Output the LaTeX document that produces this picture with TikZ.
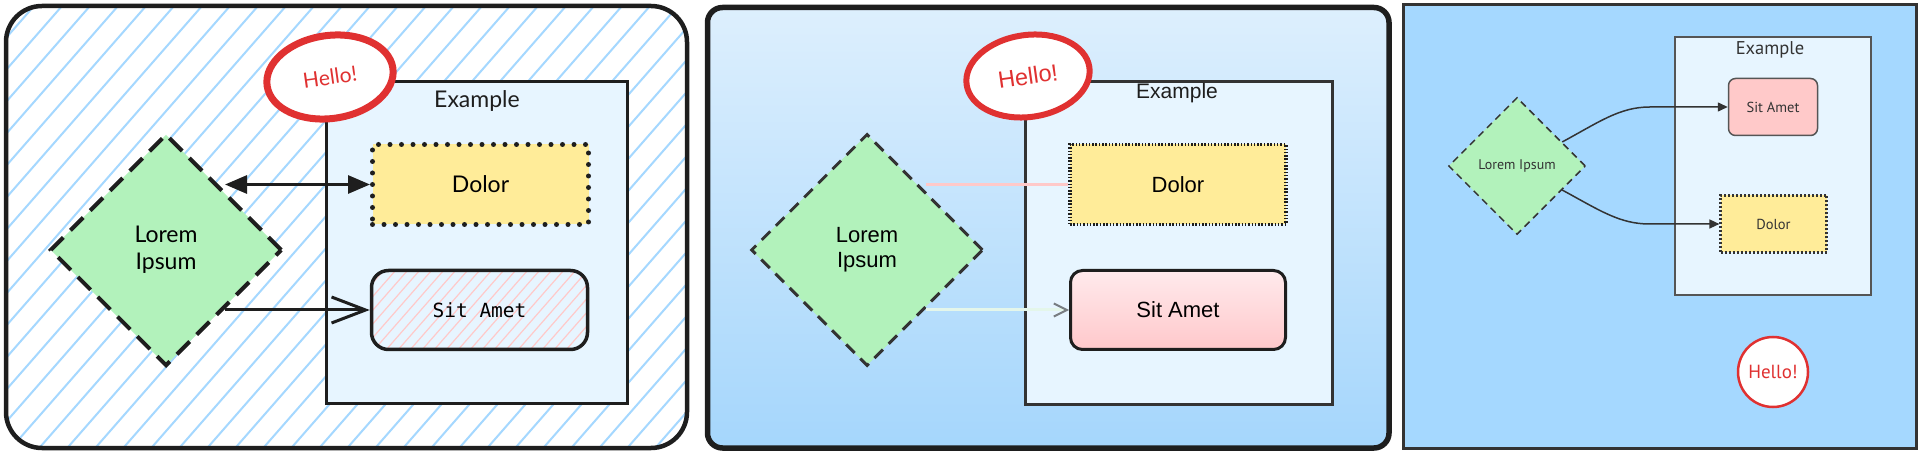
\documentclass[tikz,border=0pt]{standalone}
\usepackage{fontspec}
\usepackage{xcolor}
\usepackage{tikz}
\usetikzlibrary{positioning, arrows.meta, shapes.geometric}
\newfontfamily\sketchfont{Lato}
\newfontfamily\codefont{DejaVu Sans Mono}
\newfontfamily\arialfont{Liberation Sans}
\newfontfamily\trebfont{PT Sans}
\definecolor{inkblack}{RGB}{30,30,30}
\definecolor{hatchblue}{RGB}{165,216,255}
\definecolor{paleblue}{RGB}{231,245,255}
\definecolor{mintgreen}{RGB}{178,242,187}
\definecolor{butter}{RGB}{255,236,153}
\definecolor{rosepink}{RGB}{255,201,201}
\definecolor{hellored}{RGB}{224,49,49}
\definecolor{skytop}{RGB}{221,239,253}
\definecolor{skybottom}{RGB}{165,214,252}
\definecolor{rosetop}{RGB}{255,234,236}
\definecolor{rosebottom}{RGB}{255,200,203}
\definecolor{darkgray}{RGB}{51,51,51}
\definecolor{midgray}{RGB}{85,85,85}
\definecolor{palemint}{RGB}{228,246,234}
\definecolor{tipgray}{RGB}{120,125,130}

\begin{document}
\begin{tikzpicture}[
  x=1pt, y=-1pt,
  % sketch style
  frameone/.style={draw=inkblack, line width=4.5pt, rounded corners=36pt, fill=white,
                   path picture={\foreach \k in {0,...,40}
                     \draw[hatchblue, line width=2pt] ([xshift=\k*28pt]path picture bounding box.north west) -- ++(-420,480);}},
  boxone/.style={rectangle, draw=inkblack, line width=3pt, fill=paleblue,
                 minimum width=301pt, minimum height=322pt, inner sep=0pt},
  lblone/.style={font=\sketchfont\fontsize{23pt}{27pt}\selectfont, text=inkblack, align=center},
  dotone/.style={rectangle, draw=inkblack, line width=5pt, dash pattern=on 0pt off 11.5pt,
                 line cap=round, fill=butter, minimum width=216pt, minimum height=80pt,
                 font=\sketchfont\fontsize{23pt}{27pt}\selectfont},
  decone/.style={diamond, draw=inkblack, line width=4pt, dash pattern=on 18pt off 10pt,
                 fill=mintgreen, minimum width=232pt, minimum height=232pt, inner sep=0pt,
                 align=center, font=\sketchfont\fontsize{23pt}{27pt}\selectfont},
  hatchone/.style={rectangle, rounded corners=17pt, draw=inkblack, line width=3.5pt, fill=paleblue,
                   minimum width=216pt, minimum height=79pt,
                   font=\codefont\fontsize{19.5pt}{24pt}\selectfont,
                   path picture={\foreach \k in {0,...,26}
                     \draw[rosepink, line width=1.2pt] ([xshift=\k*12pt]path picture bounding box.north west) -- ++(-84,96);}},
  helloone/.style={ellipse, draw=hellored, line width=7pt, fill=white,
                   minimum width=127pt, minimum height=83pt, inner sep=0pt, rotate=8,
                   text=hellored, font=\sketchfont\fontsize{21pt}{24pt}\selectfont},
  dblarr/.style={{Triangle[length=22pt,width=18pt]}-{Triangle[length=22pt,width=18pt]},
                 line width=3pt, draw=inkblack},
  openarr/.style={-{Straight Barb[length=34pt,width=26pt]}, line width=3pt, draw=inkblack},
  % glossy style
  frametwo/.style={draw=inkblack, line width=5.5pt, rounded corners=15pt,
                   top color=skytop, bottom color=skybottom},
  boxtwo/.style={rectangle, draw=darkgray, line width=3pt, fill=paleblue,
                 minimum width=307pt, minimum height=323pt, inner sep=0pt},
  lbltwo/.style={font=\arialfont\fontsize{21pt}{25pt}\selectfont, text=inkblack, align=center},
  dottwo/.style={rectangle, draw=inkblack, line width=3.5pt, dash pattern=on 1.5pt off 1.8pt,
                 fill=butter, minimum width=216pt, minimum height=80pt,
                 font=\arialfont\fontsize{22pt}{25pt}\selectfont},
  dectwo/.style={diamond, draw=darkgray, line width=3pt, dash pattern=on 12pt off 8pt,
                 fill=mintgreen, minimum width=232pt, minimum height=232pt, inner sep=0pt,
                 align=center, font=\arialfont\fontsize{22pt}{25pt}\selectfont},
  shadetwo/.style={rectangle, rounded corners=12pt, draw=inkblack, line width=3pt,
                   top color=rosetop, bottom color=rosebottom,
                   minimum width=215pt, minimum height=79pt,
                   font=\arialfont\fontsize{22pt}{25pt}\selectfont},
  hellotwo/.style={ellipse, draw=hellored, line width=6pt, fill=white,
                   minimum width=124pt, minimum height=82pt, inner sep=0pt, rotate=8,
                   text=hellored, font=\arialfont\fontsize{23.5pt}{26pt}\selectfont},
  pinkline/.style={draw=rosepink, line width=3pt},
  mintarr/.style={draw=palemint, line width=3pt,
                  -{Straight Barb[length=13pt,width=13pt,color=tipgray,line width=2pt]}},
  % flowchart style
  framethree/.style={draw=darkgray, line width=3pt, fill=hatchblue},
  boxthree/.style={rectangle, draw=midgray, line width=2pt, fill=paleblue,
                   minimum width=196pt, minimum height=258pt, inner sep=0pt},
  lblthree/.style={font=\trebfont\fontsize{18.5pt}{20pt}\selectfont, text=darkgray},
  solidthree/.style={rectangle, rounded corners=7pt, draw=midgray, line width=1.5pt,
                     fill=rosepink, minimum width=89pt, minimum height=57pt,
                     text=darkgray, font=\trebfont\fontsize{14.5pt}{17pt}\selectfont},
  dotthree/.style={rectangle, draw=darkgray, line width=2.2pt, dash pattern=on 2pt off 2pt,
                   fill=butter, minimum width=106pt, minimum height=57pt,
                   text=darkgray, font=\trebfont\fontsize{14.5pt}{17pt}\selectfont},
  decthree/.style={diamond, draw=darkgray, line width=1.5pt, dash pattern=on 7pt off 5pt,
                   fill=mintgreen, minimum width=137pt, minimum height=137pt, inner sep=0pt,
                   text=darkgray, font=\trebfont\fontsize{14pt}{17pt}\selectfont},
  hellothree/.style={circle, draw=hellored, line width=2.5pt, fill=white,
                     minimum size=70pt, inner sep=0pt,
                     text=hellored, font=\trebfont\fontsize{19pt}{22pt}\selectfont},
  curvearr/.style={-{Triangle[length=10pt,width=9pt]}, line width=1.5pt, draw=darkgray}
]
\useasboundingbox (0,0) rectangle (1920,454);

% Frames
\draw[frameone]   (6,6)      rectangle (687,448);
\draw[frametwo]   (707.5,7.5) rectangle (1389,448);
\draw[framethree] (1403,5)   rectangle (1916,448);

% Sketch panel
\node[boxone]   (box1)    at (477,242.5) {};
\node[lblone]   (ex1)     at (477,101)   {Example};
\node[decone]   (lorem1)  at (166,250)   {Lorem\\Ipsum};
\node[dotone]   (dolor1)  at (480.5,184.5) {Dolor};
\node[hatchone] (sit1)    at (479.5,310) {Sit Amet};
\node[helloone] (hello1)  at (330,77)    {Hello!};

\draw[dblarr]  (dolor1.west -| lorem1.north east) -- (dolor1.west);
\draw[openarr] (sit1.west -| lorem1.south east)   -- (sit1.west);

% Glossy panel
\node[boxtwo]   (box2)    at (1179,243)  {};
\node[lbltwo]   (ex2)     at (1177,93)   {Example};
\node[dectwo]   (lorem2)  at (867,250)   {Lorem\\Ipsum};
\node[dottwo]   (dolor2)  at (1178,184.5) {Dolor};
\node[shadetwo] (sit2)    at (1178,310)  {Sit Amet};
\node[hellotwo] (hello2)  at (1028,76)   {Hello!};

\draw[pinkline] (dolor2.west -| lorem2.north east) -- (dolor2.west);
\draw[mintarr]  (sit2.west -| lorem2.south east)   -- (sit2.west);

% Flowchart panel
\node[boxthree]   (box3)   at (1773,166)   {};
\node[lblthree]   (ex3)    at (1770,50)    {Example};
\node[decthree]   (lorem3) at (1517,166)   {Lorem Ipsum};
\node[solidthree] (sit3)   at (1773,107)   {Sit Amet};
\node[dotthree]   (dolor3) at (1773.5,224) {Dolor};
\node[hellothree] (hello3) at (1773,372)   {Hello!};

\draw[curvearr] (lorem3.28) .. controls +(37,-20) and +(-30,0) .. ([xshift=-78pt]sit3.west) -- (sit3.west);
\draw[curvearr] (lorem3.-28) .. controls +(37,20) and +(-30,0) .. ([xshift=-70pt]dolor3.west) -- (dolor3.west);

\end{tikzpicture}
\end{document}
